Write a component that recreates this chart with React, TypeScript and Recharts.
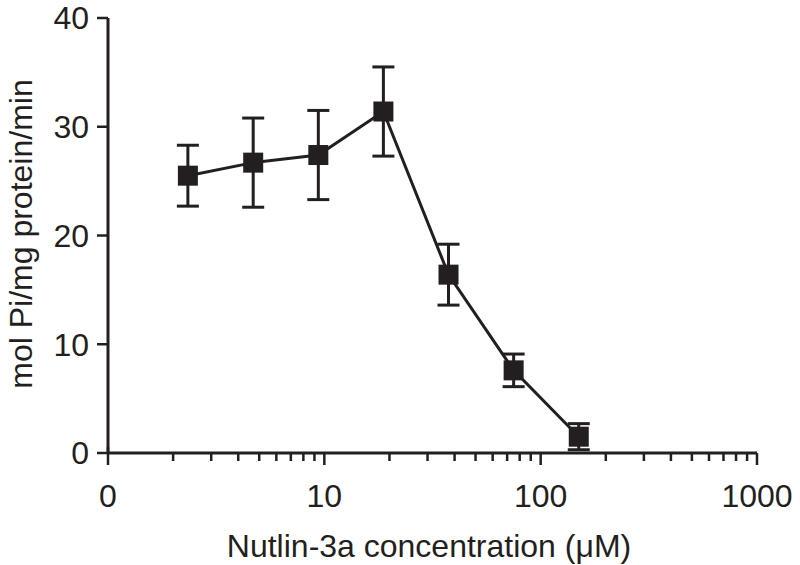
import { LineChart, Line, XAxis, YAxis, ErrorBar, Label } from 'recharts';

const concentrations = [2.34, 4.69, 9.38, 18.75, 37.5, 75, 150];
const activity = [25.5, 26.7, 27.4, 31.4, 16.4, 7.6, 1.5];
const sem = [2.8, 4.1, 4.1, 4.1, 2.8, 1.5, 1.2];

const majorTicks = [1, 10, 100, 1000];
const minorTicks = [2, 3, 4, 5, 6, 7, 8, 9, 20, 30, 40, 50, 60, 70, 80, 90, 200, 300, 400, 500, 600, 700, 800, 900];
const yTicks = [0, 10, 20, 30, 40];

const INK = '#231f20';
const FONT = '"Liberation Sans", Arial, Helvetica, sans-serif';

const data = concentrations.map((c, i) => ({ conc: c, rate: activity[i], err: sem[i] }));

function XTick(props: any) {
  const { x, y, payload } = props;
  const v = payload.value;
  const major = majorTicks.includes(v);
  return (
    <g>
      <line
        x1={x}
        x2={x}
        y1={v === 1 ? y - 6 : y}
        y2={major ? y + 12 : y + 8}
        stroke={INK}
        strokeWidth={2.5}
      />
      {major && (
        <text x={x} y={y + 54} textAnchor="middle" fontSize={32} fill={INK} fontFamily={FONT}>
          {v === 1 ? '0' : v}
        </text>
      )}
    </g>
  );
}

function SquareDot(props: any) {
  const { cx, cy, index } = props;
  return <rect key={index} x={cx - 10} y={cy - 10} width={20} height={20} fill={INK} />;
}

export default function App() {
  return (
    <div style={{ position: 'absolute', left: 0, top: 0, width: 800, height: 565, background: '#fff' }}>
      <LineChart width={800} height={565} data={data} margin={{ top: 18, right: 43, bottom: 12, left: 8 }}>
        <XAxis
          dataKey="conc"
          type="number"
          scale="log"
          domain={[1, 1000]}
          ticks={[...majorTicks, ...minorTicks]}
          interval={0}
          allowDataOverflow
          height={100}
          tickSize={0}
          tickMargin={0}
          tickLine={false}
          tick={<XTick />}
          axisLine={{ stroke: INK, strokeWidth: 3 }}
        >
          <Label
            content={() => (
              <text x={429} y={557} textAnchor="middle" fontSize={32} fill={INK} fontFamily={FONT}>
                Nutlin-3a concentration (μM)
              </text>
            )}
          />
        </XAxis>
        <YAxis
          type="number"
          domain={[0, 40]}
          ticks={yTicks}
          interval={0}
          width={100}
          tickSize={11}
          tickMargin={8}
          tickLine={{ stroke: INK, strokeWidth: 2.5 }}
          axisLine={{ stroke: INK, strokeWidth: 3 }}
          tick={{ fontSize: 32, fill: INK, fontFamily: FONT }}
        >
          <Label
            content={() => (
              <text
                x={0}
                y={0}
                transform="translate(32 234) rotate(-90)"
                textAnchor="middle"
                fontSize={32}
                fill={INK}
                fontFamily={FONT}
              >
                mol Pi/mg protein/min
              </text>
            )}
          />
        </YAxis>
        <Line
          dataKey="rate"
          stroke={INK}
          strokeWidth={3}
          dot={SquareDot}
          activeDot={false}
          isAnimationActive={false}
        >
          <ErrorBar dataKey="err" direction="y" width={11} stroke={INK} strokeWidth={3} isAnimationActive={false} />
        </Line>
      </LineChart>
    </div>
  );
}
